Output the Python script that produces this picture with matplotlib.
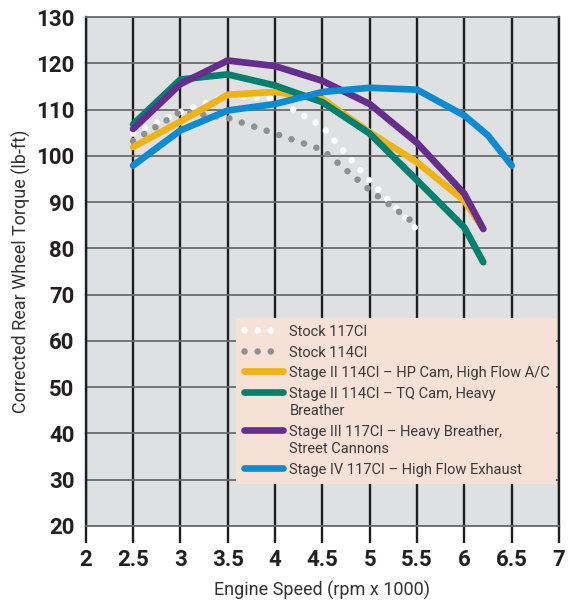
import matplotlib
matplotlib.use('Agg')
import matplotlib.pyplot as plt

# ---- data ----
rpm_stock = [2.5, 3.0, 3.5, 4.0, 4.5, 5.0, 5.5]
stock_117 = [104.8, 109.5, 113.0, 112.4, 106.3, 94.6, 84.0]
stock_114 = [103.2, 109.5, 108.2, 104.8, 101.3, 92.6, 85.0]

rpm_stage = [2.5, 3.0, 3.5, 4.0, 4.5, 5.0, 5.5, 6.0, 6.2]
stage2_hp = [101.9, 107.4, 113.2, 113.8, 112.3, 105.1, 98.6, 90.3, 84.2]
stage2_tq = [106.8, 116.5, 117.6, 115.2, 111.6, 104.8, 94.7, 84.5, 77.0]
stage3 = [105.8, 115.5, 120.6, 119.4, 116.2, 111.2, 102.8, 91.8, 84.2]

rpm_stage4 = [2.5, 3.0, 3.5, 4.0, 4.5, 5.0, 5.5, 6.0, 6.25, 6.5]
stage4 = [97.9, 105.5, 109.8, 111.2, 113.8, 114.7, 114.3, 108.7, 104.4, 97.9]

series_labels = [
    "Stock 117CI",
    "Stock 114CI",
    "Stage II 114CI – HP Cam, High Flow A/C",
    "Stage II 114CI – TQ Cam, Heavy\nBreather",
    "Stage III 117CI – Heavy Breather,\nStreet Cannons",
    "Stage IV 117CI – High Flow Exhaust",
]
x_ticks = [2, 2.5, 3, 3.5, 4, 4.5, 5, 5.5, 6, 6.5, 7]
x_tick_labels = ["2", "2.5", "3", "3.5", "4", "4.5", "5", "5.5", "6", "6.5", "7"]
y_ticks = [20, 30, 40, 50, 60, 70, 80, 90, 100, 110, 120, 130]
x_label = "Engine Speed (rpm x 1000)"
y_label = "Corrected Rear Wheel Torque (lb-ft)"

colors = ["#ffffff", "#8f8f8f", "#f1b312", "#00806f", "#662d8f", "#0a8bd3"]

plt.rcParams['font.family'] = ['Roboto', 'DejaVu Sans']

fig = plt.figure(figsize=(5.68, 6.01), dpi=100)
ax = fig.add_axes([0.1509, 0.1248, 0.8333, 0.8469])
ax.set_facecolor('#dfe0e2')
ax.set_xlim(2, 7)
ax.set_ylim(20, 130)

ax.set_axisbelow(True)
ax.grid(axis='x', color='#1e1e1e', lw=1.7)
ax.grid(axis='y', color='#6b6b6b', lw=1.3)

ax.set_xticks(x_ticks)
ax.set_xticklabels(x_tick_labels, fontsize=16, fontweight='bold', color='#231f20')
ax.set_yticks(y_ticks)
ax.set_yticklabels([str(v) for v in y_ticks], fontsize=16, fontweight='bold', color='#231f20')
ax.tick_params(axis='x', length=12.5, width=1.7, color='#1e1e1e', pad=4)
ax.tick_params(axis='y', length=0, pad=8)

for side in ['left', 'right']:
    ax.spines[side].set_color('#1e1e1e')
    ax.spines[side].set_linewidth(1.7)
for side in ['top', 'bottom']:
    ax.spines[side].set_color('#6b6b6b')
    ax.spines[side].set_linewidth(1.3)

ax.set_xlabel(x_label, fontsize=13, color='#333333', labelpad=7)
ax.set_ylabel(y_label, fontsize=13, color='#333333', labelpad=4)

dot_style = dict(lw=4.7, linestyle=(0, (0.01, 2.0)), dash_capstyle='round')
solid_style = dict(lw=4.8, solid_capstyle='round', solid_joinstyle='round')

ax.plot(rpm_stock, stock_117, color=colors[0], label=series_labels[0], zorder=3, **dot_style)
ax.plot(rpm_stock, stock_114, color=colors[1], label=series_labels[1], zorder=3.1, **dot_style)
ax.plot(rpm_stage, stage2_hp, color=colors[2], label=series_labels[2], zorder=3.2, **solid_style)
ax.plot(rpm_stage, stage2_tq, color=colors[3], label=series_labels[3], zorder=3.3, **solid_style)
ax.plot(rpm_stage, stage3, color=colors[4], label=series_labels[4], zorder=3.4, **solid_style)
ax.plot(rpm_stage4, stage4, color=colors[5], label=series_labels[5], zorder=3.5, **solid_style)

leg = ax.legend(loc='upper left', bbox_to_anchor=(0.318, 0.071, 0.676, 0.338),
                mode='expand', borderaxespad=0, fontsize=10.5,
                frameon=True, fancybox=False, framealpha=1,
                facecolor='#f5e1d6', edgecolor='none',
                handlelength=2.7, handletextpad=0.45, labelspacing=0.45,
                borderpad=0.5, labelcolor='#3a3a3a')
leg.set_zorder(5)
for t in leg.get_texts():
    t.set_linespacing(1.32)
for col in leg._legend_handle_box.get_children():
    for item in col.get_children():
        item.align = 'top'

fig.savefig('out.png', dpi=100)
